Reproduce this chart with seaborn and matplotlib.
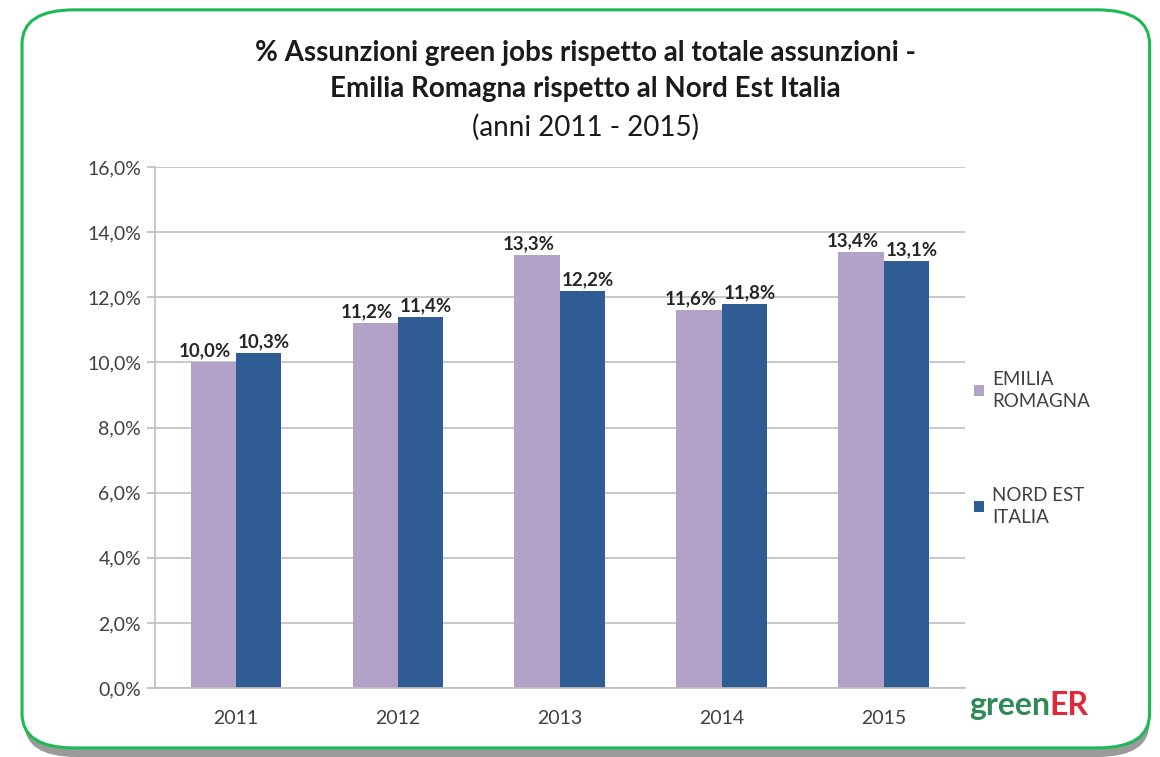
import matplotlib
matplotlib.use("Agg")
import matplotlib.pyplot as plt
import seaborn as sns
import pandas as pd
from matplotlib.patches import FancyBboxPatch
from matplotlib.ticker import FuncFormatter

years = ["2011", "2012", "2013", "2014", "2015"]
emilia = [10.0, 11.2, 13.3, 11.6, 13.4]
nord_est = [10.3, 11.4, 12.2, 11.8, 13.1]
series_names = ["EMILIA\nROMAGNA", "NORD EST\nITALIA"]
colors = ["#B3A2C7", "#2F5C92"]

df = pd.DataFrame({
    "anno": years * 2,
    "valore": emilia + nord_est,
    "serie": [series_names[0]] * len(years) + [series_names[1]] * len(years),
})

sns.set_theme(style="white")
plt.rcParams['font.family'] = ['Lato', 'DejaVu Sans']

fig = plt.figure(figsize=(11.6, 7.57), dpi=100)
fig.patch.set_facecolor("white")

# green rounded frame with shadow
shadow = FancyBboxPatch((0.021, 0.0), 0.97, 0.965, boxstyle="round,pad=0,rounding_size=0.045",
                        transform=fig.transFigure, facecolor="#9a9a9a", edgecolor="none", zorder=-3)
fig.patches.append(shadow)
frame = FancyBboxPatch((0.019, 0.012), 0.972, 0.975, boxstyle="round,pad=0,rounding_size=0.045",
                       transform=fig.transFigure, facecolor="white", edgecolor="#1DB954",
                       linewidth=2.2, zorder=-2)
fig.patches.append(frame)

ax = fig.add_axes([0.1336, 0.0911, 0.698, 0.6883])
ax.set_facecolor("none")
sns.barplot(data=df, x="anno", y="valore", hue="serie", palette=colors,
            width=0.56, ax=ax, saturation=1, edgecolor="none", legend=True)

ax.set_ylim(0, 16)
ax.set_xlim(-0.5, 4.5)
ax.set_yticks([0, 2, 4, 6, 8, 10, 12, 14, 16])
ax.yaxis.set_major_formatter(FuncFormatter(lambda v, p: f"{v:.1f}%".replace(".", ",")))
ax.grid(axis="y", color="#BFBFBF", linewidth=1.2)
ax.set_axisbelow(True)
for s in ["top", "right"]:
    ax.spines[s].set_visible(False)
for s in ["left", "bottom"]:
    ax.spines[s].set_color("#BFBFBF")
    ax.spines[s].set_linewidth(1.2)
ax.tick_params(axis="y", left=True, length=6, color="#BFBFBF", labelsize=14, labelcolor="#404040", pad=4)
ax.tick_params(axis="x", bottom=False, labelsize=14, labelcolor="#404040", pad=10)
ax.set_xlabel("")
ax.set_ylabel("")

offsets = [-6, 4]
for cont, dx in zip(ax.containers, offsets):
    anns = ax.bar_label(cont, labels=[f"{v:.1f}%".replace(".", ",") for v in cont.datavalues],
                        fontsize=13.5, fontweight="bold", color="#262626", padding=2)
    for a in anns:
        a.xyann = (dx, 2)

leg = ax.legend(loc="center left", bbox_to_anchor=(1.0, 0.46), frameon=False,
                fontsize=13.5, handlelength=0.55, handleheight=0.55, handletextpad=0.4,
                labelspacing=4.1, borderaxespad=0.1)
for t in leg.get_texts():
    t.set_color("#404040")
    t.set_linespacing(1.35)

fig.text(0.505, 0.930, "% Assunzioni green jobs rispetto al totale assunzioni -",
         ha="center", va="center", fontsize=20, fontweight="bold", color="#1a1a1a")
fig.text(0.505, 0.883, "Emilia Romagna rispetto al Nord Est Italia",
         ha="center", va="center", fontsize=20, fontweight="bold", color="#1a1a1a")
fig.text(0.505, 0.832, "(anni 2011 - 2015)",
         ha="center", va="center", fontsize=20, color="#1a1a1a")

fig.text(0.905, 0.068, "green", ha="right", va="center", fontsize=23, fontweight="bold", color="#2E8B57")
fig.text(0.905, 0.068, "ER", ha="left", va="center", fontsize=23, fontweight="bold", color="#E0283C")

fig.savefig("out.png", dpi=100, facecolor="white")
